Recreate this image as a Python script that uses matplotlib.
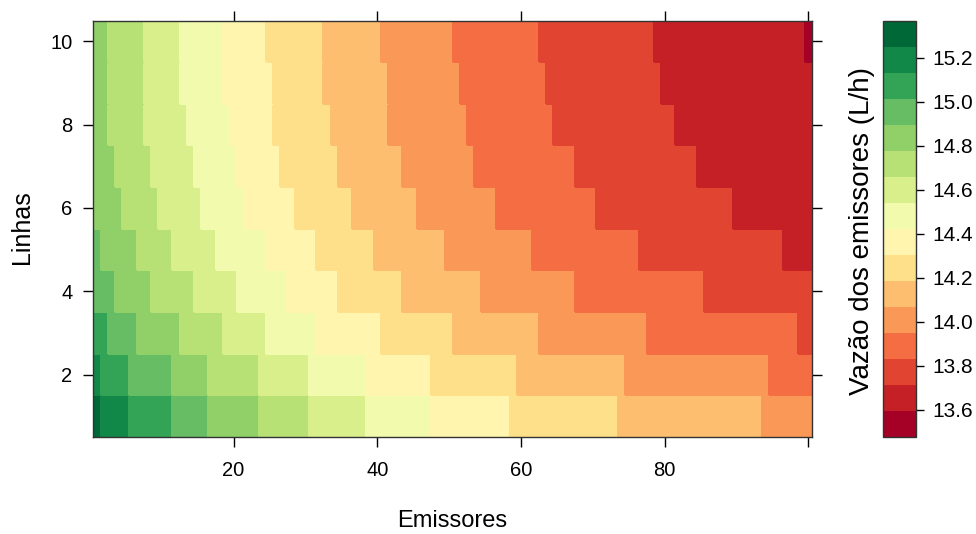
import numpy as np
import matplotlib
matplotlib.use('Agg')
import matplotlib.pyplot as plt
from matplotlib.colors import ListedColormap, BoundaryNorm

plt.rcParams['font.family'] = ['Liberation Sans', 'DejaVu Sans']

linhas = np.arange(1, 11)
emissores = np.arange(1, 101)

# escala de cor: 16 faixas entre a menor e a maior vazao (L/h)
vazao_min = 13.477
vazao_max = 15.37
n_faixas = 16

# faixa do primeiro emissor de cada linha (0 = vazao mais baixa)
faixa_inicial = [15, 14, 13, 12, 12, 11, 11, 11, 11, 11]
# ultimo emissor de cada faixa, linha 1 a linha 10 (a faixa cai uma a cada trecho)
fim_faixas = [
    [1, 5, 11, 16, 23, 30, 38, 47, 58, 73, 93, 100],
    [1, 5, 11, 16, 23, 30, 38, 47, 59, 74, 94, 100],
    [2, 6, 12, 18, 24, 31, 40, 50, 62, 77, 98, 100],
    [3, 8, 14, 20, 27, 34, 43, 54, 67, 85, 100],
    [1, 6, 11, 17, 24, 31, 39, 49, 61, 76, 96, 100],
    [4, 9, 15, 21, 28, 36, 45, 56, 70, 89, 100],
    [3, 8, 14, 20, 26, 34, 43, 53, 67, 84, 100],
    [2, 7, 13, 19, 25, 33, 41, 52, 64, 81, 100],
    [2, 7, 12, 18, 25, 32, 41, 51, 63, 79, 100],
    [2, 7, 12, 18, 24, 32, 40, 50, 62, 78, 99, 100],
]

cb_ticks = [13.6, 13.8, 14.0, 14.2, 14.4, 14.6, 14.8, 15.0, 15.2]

cortes = np.linspace(vazao_min, vazao_max, n_faixas + 1)
centros = (cortes[:-1] + cortes[1:]) / 2

vazao = np.zeros((len(linhas), len(emissores)))
for i, fins in enumerate(fim_faixas):
    inicio = 0
    for j, fim in enumerate(fins):
        vazao[i, inicio:fim] = centros[faixa_inicial[i] - j]
        inicio = fim

fig = plt.figure(figsize=(9.76, 5.34), dpi=100)
ax = fig.add_axes([0.0957, 0.1816, 0.7362, 0.7800])

cmap = ListedColormap(plt.cm.RdYlGn(np.linspace(0, 1, n_faixas)))
norm = BoundaryNorm(cortes, n_faixas)

x_bordas = np.append(emissores - 0.5, emissores[-1] + 0.5)
y_bordas = np.append(linhas - 0.5, linhas[-1] + 0.5)
malha = ax.pcolormesh(x_bordas, y_bordas, vazao, cmap=cmap, norm=norm,
                      edgecolors='face', linewidth=0.3)

ax.set_xlim(0.5, 100.5)
ax.set_ylim(0.5, 10.5)
ax.set_xticks([20, 40, 60, 80, 100])
ax.set_xticklabels(['20', '40', '60', '80', ''])
ax.set_yticks([2, 4, 6, 8, 10])
ax.tick_params(axis='both', direction='out', length=7, width=1, labelsize=14.5,
               top=True, right=True, labeltop=False, labelright=False)
ax.tick_params(axis='x', pad=10)
ax.tick_params(axis='y', pad=8)
for s in ax.spines.values():
    s.set_linewidth(1)
    s.set_color('#333333')

cax = fig.add_axes([0.9047, 0.1816, 0.0338, 0.7800])
cb = fig.colorbar(malha, cax=cax, ticks=cb_ticks)
cb.ax.minorticks_off()
cb.ax.set_yticklabels(['%.1f' % t for t in cb_ticks])
cb.ax.tick_params(length=6, width=1, pad=6, labelsize=15)
cb.outline.set_linewidth(1)
cb.outline.set_edgecolor('#333333')

fig.text(0.463, 0.0243, 'Emissores', ha='center', va='center', fontsize=17)
fig.text(0.0225, 0.575, 'Linhas', ha='center', va='center', rotation=90, fontsize=18)
fig.text(0.883, 0.567, 'Vazão dos emissores (L/h)', ha='center', va='center',
         rotation=90, fontsize=20)

fig.savefig('out.png', dpi=100)
